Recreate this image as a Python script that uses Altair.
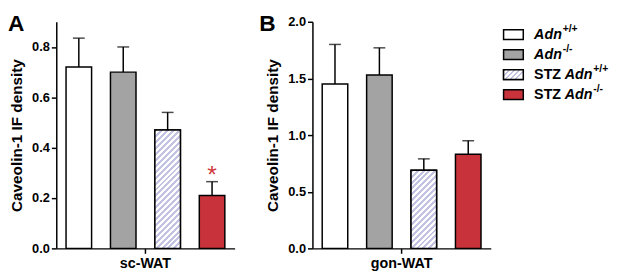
import altair as alt
import pandas as pd

# ---------------- data ----------------
groups = ["Adn+/+", "Adn-/-", "STZ Adn+/+", "STZ Adn-/-"]
prefixes = ["", "", "STZ", "STZ"]
supers = ["+/+", "-/-", "+/+", "-/-"]

sc_label = "sc-WAT"
sc_means = [0.72, 0.70, 0.47, 0.21]
sc_upper = [0.835, 0.80, 0.54, 0.265]

gon_label = "gon-WAT"
gon_means = [1.45, 1.53, 0.69, 0.83]
gon_upper = [1.80, 1.77, 0.79, 0.95]

sc_ticks = [0.0, 0.2, 0.4, 0.6, 0.8]
gon_ticks = [0.0, 0.5, 1.0, 1.5, 2.0]

y_title = "Caveolin-1 IF density"

# ---------------- style ----------------
FONT = "Liberation Sans"
fills = ["#ffffff", "#a3a3a3", "#ffffff", "#c8323a"]
HATCH = "#c2c2e2"
RED = "#d03a40"
W = 181
H = 230


def hatch(w, h, period=6):
    r = h / w
    denom = w * (1 + r * r)
    tp = period / denom
    stops = []
    k = 0
    while k * tp < 1:
        a = k * tp
        b = min(a + tp / 2, 1)
        c = min(a + tp, 1)
        stops += [
            {"offset": a, "color": HATCH},
            {"offset": b, "color": HATCH},
            {"offset": b, "color": "#ffffff"},
            {"offset": c, "color": "#ffffff"},
        ]
        k += 1
    return {"gradient": "linear", "x1": 0, "y1": 0, "x2": 1, "y2": r, "stops": stops}


def panel(label, means, upper, ymax, ticks, letter, letter_x, star=False):
    df = pd.DataFrame({"tissue": label, "group": groups, "mean": means, "upper": upper})
    base = alt.Chart(df)
    x = alt.X(
        "tissue:N",
        scale=alt.Scale(paddingInner=0, paddingOuter=0),
        axis=alt.Axis(title=None, labelAngle=0, labelFontSize=14.5, labelPadding=3),
    )
    xo = alt.XOffset(
        "group:N",
        scale=alt.Scale(domain=groups, paddingInner=0.425, paddingOuter=0.22),
    )
    yscale = alt.Scale(domain=[0, ymax], nice=False, zero=True)
    y = alt.Y(
        "mean:Q",
        scale=yscale,
        axis=alt.Axis(values=ticks, format=".1f", title=y_title, titlePadding=7),
    )
    bars = base.mark_bar(stroke="black", strokeWidth=1.5).encode(
        x=x, xOffset=xo, y=y,
        fill=alt.Fill("group:N", scale=alt.Scale(domain=groups, range=fills), legend=None),
    )
    bw = W / (4 - 0.425 + 0.44) * (1 - 0.425)
    hidx = 2
    hh = means[hidx] / ymax * H
    hbar = base.transform_filter(alt.datum.group == groups[hidx]).mark_bar(
        stroke="black", strokeWidth=1.5, fill=hatch(bw, hh)
    ).encode(x=x, xOffset=xo, y=y)
    rules = base.mark_rule(color="black", strokeWidth=1.5).encode(
        x=x, xOffset=xo, y=alt.Y("mean:Q", scale=yscale), y2="upper:Q"
    )
    caps = base.mark_tick(color="black", thickness=1.5, size=12).encode(
        x=x, xOffset=xo, y=alt.Y("upper:Q", scale=yscale)
    )
    layers = [rules, caps, bars, hbar]
    if star:
        st = base.transform_filter(alt.datum.group == groups[3]).mark_text(
            text="*", fontSize=25, color=RED, baseline="alphabetic", dy=1, font=FONT
        ).encode(x=x, xOffset=xo, y=alt.Y("upper:Q", scale=yscale))
        layers.append(st)
    let = base.transform_filter(alt.datum.group == groups[0]).mark_text(
        text=letter, fontSize=23, fontWeight="bold", font=FONT, align="left",
        baseline="alphabetic", color="black"
    ).encode(x=alt.value(letter_x), y=alt.value(9))
    layers.append(let)
    return alt.layer(*layers).properties(width=W, height=H)


pa = panel(sc_label, sc_means, sc_upper, 0.9, sc_ticks, "A", -49, star=True)
pb = panel(gon_label, gon_means, gon_upper, 2.0, gon_ticks, "B", -54)

# ---------------- legend ----------------
ldf = pd.DataFrame({"group": groups, "prefix": prefixes, "sup": supers})
lbase = alt.Chart(ldf).transform_calculate(
    ax="datum.prefix ? 63 : 32", sx="datum.prefix ? 92 : 61"
)
ly = alt.Y(
    "group:N",
    scale=alt.Scale(type="point", domain=groups, range=[13, 74], padding=0),
    axis=None,
)
shape = "M-1,-0.5L1,-0.5L1,0.5L-1,0.5Z"
sw = lbase.mark_point(shape=shape, size=400, filled=True, opacity=1, stroke="black", strokeWidth=1.5).encode(
    x=alt.value(11), y=ly,
    fill=alt.Fill("group:N", scale=alt.Scale(domain=groups, range=fills), legend=None),
)
swh = lbase.transform_filter(alt.datum.group == groups[2]).mark_point(
    shape=shape, size=400, filled=True, opacity=1, stroke="black", strokeWidth=1.5, fill=hatch(20, 10, 5)
).encode(x=alt.value(11), y=ly)
t_pre = lbase.transform_filter(alt.datum.prefix != "").mark_text(
    align="left", baseline="middle", fontSize=14.5, fontWeight="bold", font=FONT, color="black"
).encode(x=alt.value(32), y=ly, text="prefix:N")
t_adn = lbase.mark_text(
    text="Adn", align="left", baseline="middle", fontSize=14.5, fontWeight="bold",
    fontStyle="italic", font=FONT, color="black"
).encode(x=alt.X("ax:Q", scale=None), y=ly)
t_sup = lbase.mark_text(
    align="left", baseline="middle", fontSize=10.5, fontWeight="bold", font=FONT, color="black", dy=-6
).encode(x=alt.X("sx:Q", scale=None), y=ly, text="sup:N")
legend = alt.layer(sw, swh, t_pre, t_adn, t_sup).properties(width=105, height=90)

chart = alt.hconcat(
    pa, alt.hconcat(pb, legend, spacing=10), spacing=25
).properties(padding={"top": 3, "left": 0, "right": 0, "bottom": 0}).configure_view(stroke=None).configure_axis(
    domainColor="black", domainWidth=1.5, tickColor="black", tickWidth=1.5, tickSize=5,
    labelFont=FONT, labelFontWeight="bold", labelColor="black", labelFontSize=13, labelPadding=2,
    titleFont=FONT, titleFontWeight="bold", titleColor="black", titleFontSize=15.5, grid=False,
)

chart.save("out.html", embed_options={"renderer": "svg", "actions": False})
